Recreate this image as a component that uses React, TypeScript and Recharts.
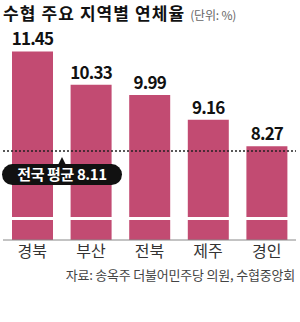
import { BarChart, Bar, XAxis, YAxis, ReferenceLine, LabelList } from 'recharts'

const regions = ['경북', '부산', '전북', '제주', '경인']
const rates = [11.45, 10.33, 9.99, 9.16, 8.27]
const nationalAvg = 8.11
// 축 생략(물결) 표시 위치
const breakValue = 5.85

const data = regions.map((name, i) => ({ name, rate: rates[i] }))

const FONT = '"Noto Sans CJK KR", "Noto Sans", sans-serif'
const BAR_COLOR = '#c24b72'

function AvgBadge(props: any) {
  const { viewBox } = props
  if (!viewBox) return null
  const x0 = viewBox.x - 1
  const y = viewBox.y
  const cx = x0 + 60
  return (
    <g>
      <polygon points={`${cx - 4},${y + 14} ${cx + 4},${y + 14} ${cx},${y + 6}`} fill="#111" />
      <rect x={x0} y={y + 13} width={120} height={21} rx={10.5} fill="#111" />
      <text
        x={cx}
        y={y + 29}
        textAnchor="middle"
        fill="#fff"
        fontSize={15}
        fontWeight={700}
        fontFamily={FONT}
        letterSpacing={-0.4}
      >
        전국 평균 {nationalAvg.toFixed(2)}
      </text>
    </g>
  )
}

export default function App() {
  return (
    <div
      style={{
        position: 'absolute',
        left: 0,
        top: 0,
        width: 300,
        height: 322,
        background: '#fff',
        fontFamily: FONT,
      }}
    >
      <div
        style={{
          position: 'absolute',
          left: 3,
          top: 0,
          fontSize: 17,
          fontWeight: 700,
          letterSpacing: 1.1,
          color: '#111',
          whiteSpace: 'nowrap',
        }}
      >
        수협 주요 지역별 연체율{' '}
        <span style={{ fontSize: 12, fontWeight: 400, color: '#666', letterSpacing: -0.2 }}>
          (단위: %)
        </span>
      </div>
      <BarChart
        width={300}
        height={322}
        data={data}
        margin={{ top: 35, right: 4, left: 3, bottom: 52 }}
      >
        <YAxis hide type="number" domain={[5.13, 12]} />
        <XAxis
          dataKey="name"
          height={30}
          tickLine={false}
          tickSize={0}
          tickMargin={6}
          axisLine={{ stroke: '#888', strokeWidth: 1 }}
          tick={{ fontSize: 16, fill: '#333', fontFamily: FONT }}
        />
        <Bar dataKey="rate" fill={BAR_COLOR} barSize={41} isAnimationActive={false}>
          <LabelList
            dataKey="rate"
            position="top"
            offset={6}
            formatter={(v: any) => Number(v).toFixed(2)}
            style={{ fontSize: 17, fontWeight: 700, fill: '#111', fontFamily: FONT, letterSpacing: -0.8 }}
          />
        </Bar>
        <ReferenceLine y={breakValue} stroke="#fff" strokeWidth={3} />
        <ReferenceLine
          y={nationalAvg}
          stroke="#222"
          strokeWidth={1.5}
          strokeDasharray="2 2"
          label={<AvgBadge />}
        />
      </BarChart>
      <div
        style={{
          position: 'absolute',
          right: 5,
          top: 265,
          fontSize: 13,
          color: '#444',
          letterSpacing: -0.2,
          whiteSpace: 'nowrap',
        }}
      >
        자료: 송옥주 더불어민주당 의원, 수협중앙회
      </div>
    </div>
  )
}
